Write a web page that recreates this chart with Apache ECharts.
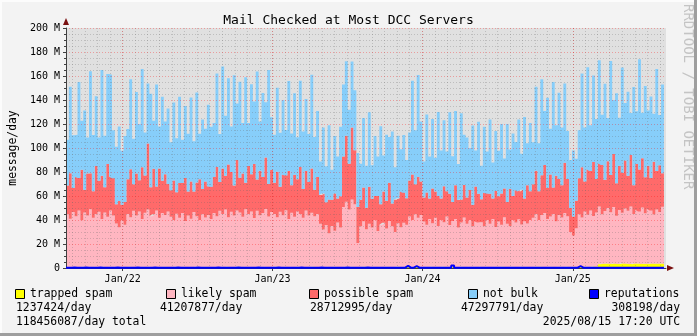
<!DOCTYPE html>
<html><head><meta charset="utf-8">
<script src="https://cdn.jsdelivr.net/npm/echarts@6/dist/echarts.min.js"></script>
<style>html,body{margin:0;padding:0;background:#f3f3f3}#c{width:697px;height:336px}</style>
</head><body><div id="c"></div>
<script>
// weekly samples starting 2021-08-16 (values in millions of messages/day)
const startDate = Date.UTC(2021, 7, 16);
const endDate = Date.UTC(2025, 7, 16);
const stepDays = 7;

const trappedSpam = [
0.8,1.0,0.7,1.1,0.9,0.8,1.2,0.7,1.0,0.9,
1.1,0.8,0.9,1.2,0.7,1.0,0.8,1.1,0.9,0.7,
1.0,0.9,1.2,0.8,0.7,1.1,0.9,1.0,0.8,1.2,
0.7,1.0,0.9,0.8,1.1,1.0,0.7,0.9,1.2,0.8,
0.9,1.1,0.8,1.0,0.7,1.2,0.9,0.8,1.0,1.1,
0.8,0.9,1.1,0.7,1.0,0.8,1.2,0.9,0.7,1.0,
1.2,0.8,1.0,0.9,1.1,0.7,0.8,1.0,0.9,1.1,
0.9,0.7,1.0,1.2,0.8,0.9,1.1,0.8,1.0,0.7,
1.0,1.1,0.8,0.9,0.7,1.0,1.2,0.9,0.8,1.1,
0.8,1.0,0.9,1.1,1.0,0.7,0.9,1.2,0.8,1.0,
1.1,0.9,0.8,1.0,1.2,0.8,0.7,1.0,0.9,1.1,
0.7,1.0,1.1,0.8,0.9,1.2,1.0,0.8,1.1,0.9,
1.0,0.8,0.9,1.1,0.7,1.0,0.9,1.2,0.8,1.0,
0.9,1.2,1.0,0.8,1.1,0.9,0.7,1.0,1.1,0.8,
1.1,0.8,1.0,0.9,1.2,0.7,1.0,0.8,0.9,1.1,
0.8,1.0,1.2,0.9,0.8,1.1,1.0,0.7,1.2,0.9,
1.0,0.9,0.8,1.1,1.0,1.2,0.9,0.8,1.0,1.1,
0.9,1.1,1.0,0.8,1.2,0.9,1.0,1.1,0.8,1.0,
1.0,1.3,0.9,1.4,1.2,
3.2,3.8,3.5,4.0,3.4,3.9,3.6,3.3,4.1,3.5,3.8,3.2,3.9,3.6,4.0,3.4,3.7,3.3,3.9,3.5,3.8,3.6,4.0,3.4];

const likelySpam = [
44,40,46,42,47,39,45,43,48,41,44,46,40,45,42,47,43,
36,33,39,35,
44,41,47,43,46,40,45,48,42,44,47,41,45,43,46,
42,39,44,41,45,38,43,40,46,42,39,44,41,43,40,
45,42,47,44,48,41,46,43,47,45,42,48,44,46,41,47,43,45,48,42,46,
44,41,46,43,47,40,45,42,46,44,41,47,43,45,42,44,
36,31,35,28,34,30,37,33,
50,54,48,56,52,
20,34,38,31,36,33,39,30,35,37,32,38,34,29,36,33,37,35,
42,39,44,41,43,
38,35,40,36,41,34,39,37,42,35,38,40,33,37,41,36,39,34,38,37,
37,34,39,36,40,33,38,35,41,36,34,39,37,40,35,38,36,39,
41,44,39,43,45,40,42,44,38,43,41,45,42,
29,26,32,
44,41,46,43,47,42,45,48,41,44,46,43,47,40,45,42,46,44,48,41,45,43,47,42,46,44,41,45,43,47,44];

const possibleSpam = [
24,38,20,33,27,42,19,35,30,22,40,26,36,21,44,28,31,
16,22,13,19,
29,40,22,35,26,43,31,55,24,38,20,41,27,34,23,
22,33,18,29,25,36,20,31,17,28,34,21,30,24,27,
30,41,24,38,28,44,33,25,42,29,36,22,40,31,45,26,37,30,43,27,35,
26,38,21,34,29,40,23,35,27,39,24,33,28,37,22,31,
24,30,19,28,22,31,20,26,
42,55,38,60,45,
30,22,28,18,31,24,20,29,17,26,23,32,19,27,21,30,25,22,
30,38,25,34,28,
20,27,17,29,22,25,18,30,21,26,16,28,23,19,27,22,25,18,29,24,
19,28,22,25,17,30,21,26,24,18,31,20,27,23,29,19,32,24,
28,36,24,33,40,26,35,22,38,30,27,42,31,
20,16,23,
30,42,25,38,33,45,28,36,41,26,39,31,44,27,37,33,40,29,43,24,38,35,41,30,36,27,44,32,39,28,34];

const notBulk = [
38,72,44,35,80,41,66,30,85,47,58,36,88,43,75,85,40,
48,62,45,55,
42,75,38,68,47,82,36,50,78,40,85,35,70,44,63,
40,65,45,72,36,60,48,70,42,75,38,58,44,68,50,
45,78,40,85,50,72,38,92,47,80,42,88,36,75,52,90,41,70,46,95,44,
40,70,45,62,38,75,43,68,35,72,48,60,40,78,44,55,
28,55,30,62,25,48,35,58,
60,62,45,55,50,
45,30,58,35,62,28,50,33,65,30,55,38,60,27,52,35,48,32,
40,78,45,85,50,
30,65,35,58,28,70,40,55,33,68,38,62,30,72,42,50,35,66,30,60,
28,55,35,62,30,50,38,58,25,65,33,52,40,60,30,68,35,57,
35,70,40,80,45,75,38,88,42,72,48,66,40,
40,55,35,
40,78,45,85,38,72,50,86,42,80,36,95,45,75,40,88,48,70,35,82,44,92,38,76,46,68,40,85,42,74,48];

const reputations = [
0.3,0.3,0.4,0.3,0.3,0.3,0.4,0.3,0.3,0.3,
0.3,0.4,0.3,0.3,0.3,0.3,0.3,0.4,0.3,0.3,
0.3,0.3,0.3,0.3,0.4,0.3,0.3,0.3,0.3,0.3,
0.4,0.3,0.3,0.3,0.3,0.3,0.3,0.3,0.4,0.3,
0.3,0.3,0.3,0.3,0.3,0.4,0.3,0.3,0.3,0.3,
0.3,0.3,0.4,0.3,0.3,0.3,0.3,0.3,0.3,0.4,
0.3,0.3,0.3,0.3,0.3,0.3,0.4,0.3,0.3,0.3,
0.3,0.3,0.3,0.4,0.3,0.3,0.3,0.3,0.3,0.3,
0.3,0.4,0.3,0.3,0.3,0.3,0.3,0.3,0.4,0.3,
0.3,0.3,0.3,0.3,0.3,0.3,0.3,0.4,0.3,0.3,
0.3,0.3,0.3,0.3,0.4,0.3,0.3,0.3,0.3,0.3,
0.3,0.3,0.3,0.3,0.3,0.3,0.3,0.3,1.8,0.3,
0.3,1.5,0.3,0.3,0.3,0.3,0.3,0.3,0.3,0.3,
0.3,0.3,0.3,0.3,2.0,0.3,0.3,0.3,0.3,0.3,
0.3,0.3,0.3,0.3,0.3,0.3,0.3,0.3,0.3,0.3,
0.3,0.3,0.3,0.3,0.3,0.3,0.3,0.3,0.3,0.3,
0.3,0.3,0.3,0.3,0.3,0.3,0.3,0.3,0.3,0.3,
0.3,0.3,0.3,0.3,0.3,0.3,0.3,0.3,1.6,0.3,
0.3,0.3,0.3,0.3,0.3,0.3,0.3,0.3,0.3,0.3,
0.3,0.3,0.3,0.3,0.3,0.3,0.3,0.3,0.3,0.3,
0.3,0.3,0.3,0.3,0.3,0.3,0.3,0.3,0.3];

const yearTickLabels = ['Jan/22', 'Jan/23', 'Jan/24', 'Jan/25'];
const legendNames = ['trapped spam', 'likely spam', 'possible spam', 'not bulk', 'reputations'];
const legendValues = ['1237424/day', '41207877/day', '28712995/day', '47297791/day', '308198/day'];
const totalText = '118456087/day total';
const stampText = '2025/08/15 17:20 UTC';
const titleText = 'Mail Checked at Most DCC Servers';

const colors = ['#FFFF00', '#FFB6C1', '#FF6A6A', '#87CEFA', '#0000FF'];
const MONO = 'DejaVu Sans Mono';
const dates = trappedSpam.map((_, i) => startDate + i * stepDays * 86400000);
const pair = arr => arr.map((v, i) => [dates[i], v]);

function areaSeries(name, arr, color) {
  return {
    name, type: 'line', stack: 'all', data: pair(arr), step: 'end',
    symbol: 'none', lineStyle: { width: 0 }, areaStyle: { color, opacity: 1 },
    itemStyle: { color }, z: 2, silent: true
  };
}

const chart = echarts.init(document.getElementById('c'), null, { renderer: 'canvas' });
const legendX = [15, 166, 309, 468, 589];
const valueX = [16, 160, 310, 461, null];
const graphics = [];
legendNames.forEach((n, i) => {
  graphics.push({ type: 'rect', shape: { x: legendX[i] + 0.5, y: 289.5, width: 9, height: 9 },
    style: { fill: colors[i], stroke: '#000', lineWidth: 1 } });
  graphics.push({ type: 'text', x: legendX[i] + 15, y: 294,
    style: { text: n, font: '11.4px ' + MONO, fill: '#000', textVerticalAlign: 'middle' } });
  if (valueX[i] !== null) {
    graphics.push({ type: 'text', x: valueX[i], y: 308,
      style: { text: legendValues[i], font: '11.4px ' + MONO, fill: '#000', textVerticalAlign: 'middle' } });
  } else {
    graphics.push({ type: 'text', x: 680, y: 308,
      style: { text: legendValues[i], font: '11.4px ' + MONO, fill: '#000', textAlign: 'right', textVerticalAlign: 'middle' } });
  }
});
graphics.push({ type: 'text', x: 16, y: 322,
  style: { text: totalText, font: '11.4px ' + MONO, fill: '#000', textVerticalAlign: 'middle' } });
graphics.push({ type: 'text', x: 680, y: 322,
  style: { text: stampText, font: '11.4px ' + MONO, fill: '#000', textAlign: 'right', textVerticalAlign: 'middle' } });
graphics.push({ type: 'text', x: 688, y: 4, rotation: -Math.PI / 2,
  style: { text: 'RRDTOOL / TOBI OETIKER', font: '14px ' + MONO, fill: '#c4c4c4', textVerticalAlign: 'middle' } });
// axis arrow heads (dark red, as in rrdtool)
graphics.push({ type: 'polygon', shape: { points: [[63, 25], [69, 25], [66, 18]] }, style: { fill: '#7a1010' }, z: 10 });
graphics.push({ type: 'polygon', shape: { points: [[667, 265], [667, 271], [674, 268]] }, style: { fill: '#7a1010' }, z: 10 });
// 3D frame
graphics.push({ type: 'rect', shape: { x: 0, y: 0, width: 697, height: 2 }, style: { fill: '#fcfcfc' } });
graphics.push({ type: 'rect', shape: { x: 0, y: 0, width: 2, height: 336 }, style: { fill: '#fcfcfc' } });
graphics.push({ type: 'rect', shape: { x: 0, y: 333, width: 697, height: 3 }, style: { fill: '#9e9e9e' } });
graphics.push({ type: 'rect', shape: { x: 694, y: 0, width: 3, height: 336 }, style: { fill: '#9e9e9e' } });

const majorLine = { show: true, lineStyle: { color: 'rgba(255,0,0,0.3)', type: [1, 2], width: 1 } };
const minorLine = { show: true, lineStyle: { color: 'rgba(100,100,100,0.28)', type: [1, 2], width: 1 } };

chart.setOption({
  animation: false,
  useUTC: true,
  backgroundColor: '#f3f3f3',
  textStyle: { fontFamily: MONO },
  title: { text: titleText, left: 'center', top: 9,
    textStyle: { fontFamily: MONO, fontSize: 13, fontWeight: 'normal', color: '#000' } },
  grid: { left: 66, right: 31, top: 28, bottom: 68, show: true, backgroundColor: '#e0e0e0', borderWidth: 0 },
  xAxis: [{
    type: 'time', min: startDate, max: endDate, position: 'bottom', z: 5,
    minInterval: 365 * 86400000, maxInterval: 366 * 86400000,
    axisLine: { show: true, lineStyle: { color: '#404040', width: 1 } },
    axisTick: { show: true, length: 3, lineStyle: { color: '#404040' } },
    axisLabel: { fontFamily: MONO, fontSize: 10, color: '#000', margin: 6, showMinLabel: false, showMaxLabel: false,
      formatter: v => { const y = new Date(v).getUTCFullYear(); return yearTickLabels[y - 2022] || ''; } },
    splitLine: Object.assign({ showMinLine: false, showMaxLine: false }, majorLine)
  }, {
    type: 'time', min: startDate, max: endDate, position: 'bottom', z: 4,
    minInterval: 28 * 86400000, maxInterval: 31 * 86400000,
    axisLine: { show: false }, axisTick: { show: false }, axisLabel: { show: false },
    splitLine: Object.assign({ showMinLine: false, showMaxLine: false }, minorLine)
  }],
  yAxis: {
    type: 'value', min: 0, max: 200, interval: 20, z: 5,
    name: 'message/day', nameLocation: 'middle', nameGap: 47, nameRotate: 90,
    nameTextStyle: { fontFamily: MONO, fontSize: 11.4, color: '#000' },
    axisLine: { show: true, lineStyle: { color: '#404040', width: 1 } },
    axisTick: { show: true, length: 3, lineStyle: { color: '#404040' } },
    minorTick: { show: true, splitNumber: 4, length: 2, lineStyle: { color: '#404040' } },
    axisLabel: { fontFamily: MONO, fontSize: 10, color: '#000', margin: 6,
      formatter: v => v === 0 ? '0' : v + ' M' },
    splitLine: Object.assign({ showMinLine: false }, majorLine),
    minorSplitLine: minorLine
  },
  series: [
    areaSeries(legendNames[0], trappedSpam, colors[0]),
    areaSeries(legendNames[1], likelySpam, colors[1]),
    areaSeries(legendNames[2], possibleSpam, colors[2]),
    areaSeries(legendNames[3], notBulk, colors[3]),
    { name: legendNames[4], type: 'line', data: pair(reputations), step: 'end', symbol: 'none',
      lineStyle: { color: colors[4], width: 2 }, z: 6, silent: true }
  ],
  graphic: graphics
});
</script></body></html>
